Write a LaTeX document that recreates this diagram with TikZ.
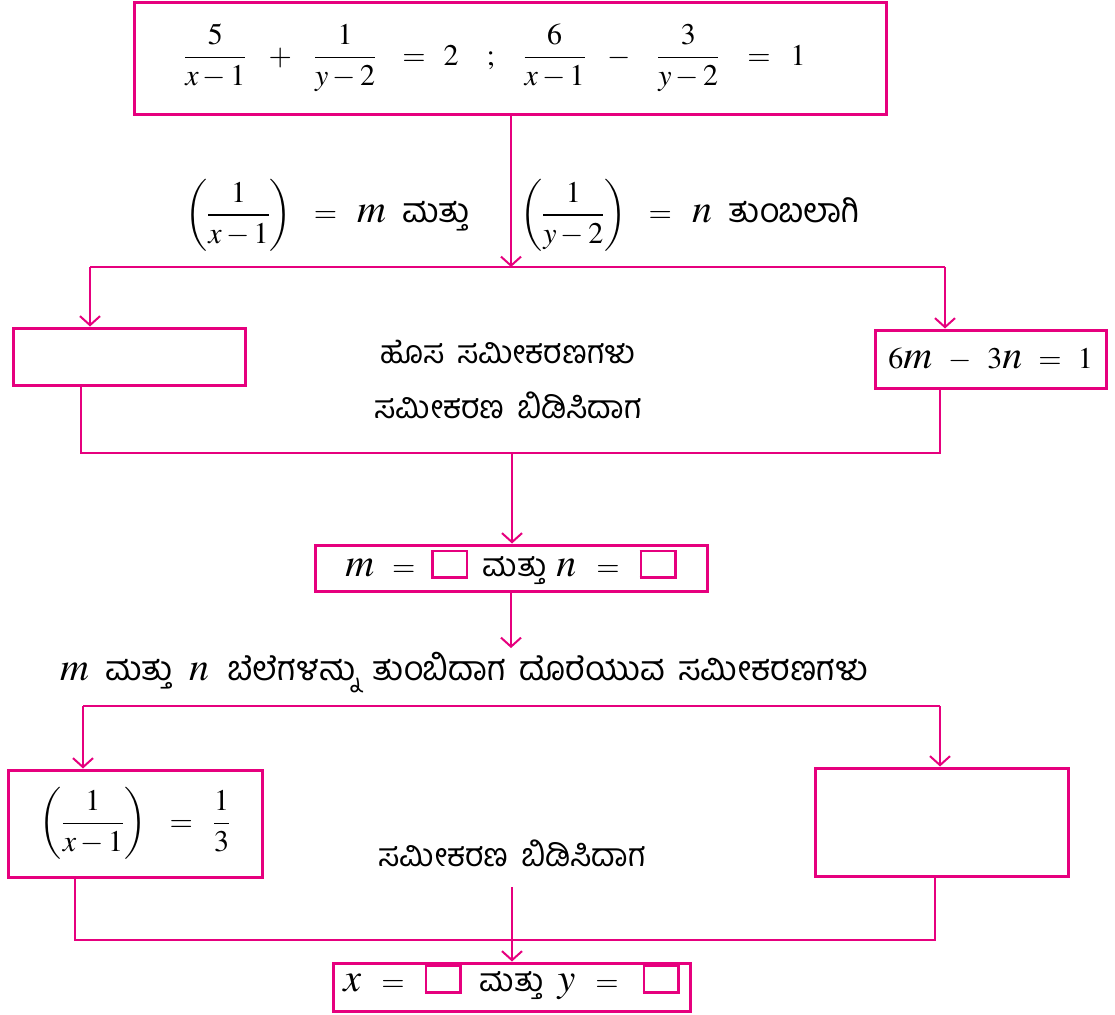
\documentclass[tikz,border=0pt]{standalone}
\usepackage{amsmath}
\usepackage{mathptmx}
\usepackage{fontspec}
\setmainfont{Liberation Serif}
\newfontfamily\kan[Script=Kannada,WordSpace=1.6]{Hind Mysuru}
\usetikzlibrary{arrows.meta}
\definecolor{mag}{RGB}{230,0,126}
\newcommand\blankbox{{\setlength\fboxrule{2.5pt}\setlength\fboxsep{0pt}\fcolorbox{mag}{white}{\rule{0pt}{24pt}\hspace{32pt}}}}
\newcommand\V[1]{{\fontsize{40}{44}\selectfont$#1$}}
\newcommand\K[1]{{\fontsize{34}{40}\selectfont\kan #1}}
\newcommand\KB[1]{{\fontsize{32}{38}\selectfont\kan #1}}
\newcommand\EQ{$\mathbf{=}$}
\newcommand\gap[1]{\hspace{#1pt}}
\tikzset{
  box/.style={draw=mag,line width=3pt,inner sep=0pt,anchor=center},
  conn/.style={draw=mag,line width=2.5pt},
  arr/.style={conn,-{Straight Barb[length=9pt,width=20pt,line width=2pt]}},
  txt/.style={inner sep=0pt,font=\fontsize{30}{36}\selectfont},
  ktxt/.style={inner sep=0pt,font=\fontsize{32}{38}\selectfont\kan},
}
\begin{document}
\begin{tikzpicture}[x=1pt,y=-1pt]
\useasboundingbox (0,0) rectangle (1115,1014);
% boxes
\node[box,minimum width=752pt,minimum height=112pt] (top) at (510,59) {};
\node[txt,anchor=west] (eq) at (184,58) {$\dfrac{5}{x-1}\gap{22}\mathbf{+}\gap{22}\dfrac{1}{y-2}\gap{26}\mathbf{=}\gap{18}2\gap{28};\gap{25}\dfrac{6}{x-1}\gap{22}\mathbf{-}\gap{26}\dfrac{3}{y-2}\gap{28}\mathbf{=}\gap{20}1$};
\node[box,minimum width=232pt,minimum height=57pt] (L1) at (129,356.5) {};
\node[box,minimum width=231pt,minimum height=58pt] (R1) at (990.5,359) {};
\node[txt] (r1t) at (990.5,359) {$6$\V{m}\gap{16}$\mathbf{-}$\gap{16}$3$\V{n}\gap{16}\EQ\gap{16}$1$};
\node[box,minimum width=392pt,minimum height=46pt] (mn) at (511,568) {};
\node[txt] (mnt) at (511,567) {\V{m}\gap{18}\EQ\gap{16}\blankbox\gap{14}\KB{ಮತ್ತು}\gap{10}\V{n}\gap{20}\EQ\gap{20}\blankbox};
\node[box,minimum width=254pt,minimum height=107pt] (L2) at (135,823.5) {};
\node[txt] (l2t) at (135,823.5) {$\left(\dfrac{1}{x-1}\right)\gap{20}\mathbf{=}\gap{20}\dfrac{1}{3}$};
\node[box,minimum width=253pt,minimum height=108pt] (R2) at (941.5,822) {};
\node[box,minimum width=357pt,minimum height=48pt] (xy) at (511.5,987) {};
\node[txt] (xyt) at (511.5,982) {\V{x}\gap{20}\EQ\gap{20}\blankbox\gap{18}\KB{ಮತ್ತು}\gap{14}\V{y}\gap{20}\EQ\gap{24}\blankbox};
% texts
\node[txt,anchor=west] (sub1) at (185,215) {$\left(\dfrac{1}{x-1}\right)$\gap{22}\EQ\gap{20}\V{m}\gap{16}\K{ಮತ್ತು}};
\node[txt,anchor=west] (sub2) at (520,215) {$\left(\dfrac{1}{y-2}\right)$\gap{22}\EQ\gap{20}\V{n}\gap{16}\K{ತುಂಬಲಾಗಿ}};
\node[ktxt] (new) at (508,352) {ಹೊಸ ಸಮೀಕರಣಗಳು};
\node[ktxt] (solve1) at (508,405) {ಸಮೀಕರಣ ಬಿಡಿಸಿದಾಗ};
\node[txt,anchor=west] (fill) at (60,673) {\V{m}\gap{16}\K{ಮತ್ತು}\gap{16}\V{n}\gap{18}\K{ಬೆಲೆಗಳನ್ನು ತುಂಬಿದಾಗ ದೊರೆಯುವ ಸಮೀಕರಣಗಳು}};
\node[ktxt] (solve2) at (512,853) {ಸಮೀಕರಣ ಬಿಡಿಸಿದಾಗ};
% junction coordinates
\coordinate (j1) at (511,267);
\coordinate (j1l) at (90,267);
\coordinate (j1r) at (945,267);
\coordinate (j2l) at (81,453);
\coordinate (j2r) at (940,453);
\coordinate (j2) at (512,453);
\coordinate (j3) at (511,648);
\coordinate (j4l) at (83,706);
\coordinate (j4r) at (940,706);
\coordinate (j5l) at (75,940);
\coordinate (j5r) at (935,940);
\coordinate (j5) at (512,887);
% connectors
\draw[arr] (top.south -| j1) -- (j1);
\draw[conn] (j1l) -- (j1r);
\draw[arr] (j1l) -- (j1l |- L1.north);
\draw[arr] (j1r) -- (j1r |- R1.north);
\draw[conn] (j2l |- L1.south) -- (j2l) -- (j2r) -- (j2r |- R1.south);
\draw[arr] (j2) -- (j2 |- mn.north);
\draw[arr] (mn.south -| j3) -- (j3);
\draw[conn] (j4l) -- (j4r);
\draw[arr] (j4l) -- (j4l |- L2.north);
\draw[arr] (j4r) -- (j4r |- R2.north);
\draw[conn] (j5l |- L2.south) -- (j5l) -- (j5r) -- (j5r |- R2.south);
\draw[arr] (j5) -- (j5 |- xy.north);
\end{tikzpicture}
\end{document}
